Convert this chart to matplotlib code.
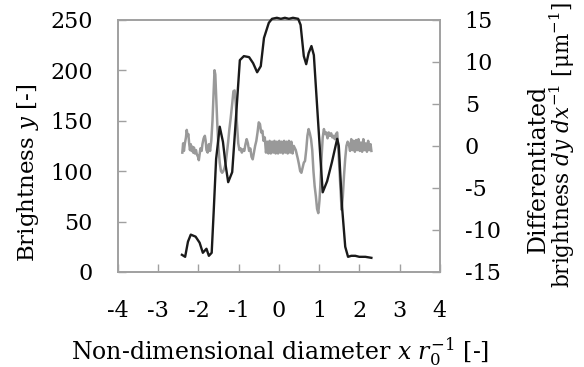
import matplotlib.pyplot as plt

plt.rcParams['font.family'] = 'DejaVu Serif'
plt.rcParams['mathtext.fontset'] = 'dejavuserif'
plt.rcParams['axes.unicode_minus'] = False

# brightness profile (left axis)
x_bright = [-2.41, -2.33, -2.26, -2.19, -2.07, -1.97, -1.89, -1.80, -1.74, -1.67,
            -1.62, -1.56, -1.47, -1.39, -1.32, -1.26, -1.16, -1.08, -0.97, -0.87,
            -0.74, -0.64, -0.54, -0.45, -0.37, -0.25, -0.17, -0.05, 0.05, 0.15,
            0.25, 0.35, 0.48, 0.54, 0.62, 0.68, 0.74, 0.81, 0.87, 0.95,
            1.03, 1.09, 1.20, 1.32, 1.45, 1.49, 1.57, 1.65, 1.72, 1.80,
            1.90, 2.00, 2.07, 2.15, 2.30]
y_bright = [17, 15, 30, 37, 35, 29, 19, 23, 16, 19,
            60, 112, 144, 129, 105, 89, 99, 145, 210, 214,
            213, 207, 198, 204, 232, 247, 251, 252, 251, 252,
            251, 252, 251, 245, 214, 206, 217, 224, 215, 165,
            115, 79, 90, 109, 132, 125, 65, 25, 15, 16,
            16, 15, 15, 15, 14]

# differentiated brightness (right axis)
x_diff = [-2.40, -2.38, -2.36, -2.34, -2.31, -2.29, -2.27, -2.25, -2.23, -2.21,
          -2.19, -2.17, -2.15, -2.13, -2.11, -2.09, -2.06, -2.04, -2.01, -1.99,
          -1.97, -1.95, -1.92, -1.90, -1.87, -1.84, -1.82, -1.80, -1.77, -1.74,
          -1.71, -1.68, -1.65, -1.62, -1.60, -1.58, -1.56, -1.53, -1.50, -1.47,
          -1.44, -1.41, -1.38, -1.35, -1.32, -1.29, -1.26, -1.23, -1.20, -1.16,
          -1.13, -1.10, -1.07, -1.04, -1.01, -0.98, -0.95, -0.92, -0.89, -0.86,
          -0.83, -0.80, -0.77, -0.74, -0.71, -0.68, -0.65, -0.62, -0.59, -0.56,
          -0.53, -0.50, -0.47, -0.44, -0.41, -0.38, -0.35, -0.32, -0.29, -0.26,
          -0.23, -0.20, -0.17, -0.14, -0.11, -0.08, -0.05, -0.02, 0.01, 0.04,
          0.07, 0.10, 0.13, 0.16, 0.19, 0.22, 0.25, 0.28, 0.31, 0.34,
          0.37, 0.42, 0.47, 0.50, 0.53, 0.56, 0.59, 0.62, 0.65, 0.68,
          0.71, 0.74, 0.77, 0.80, 0.83, 0.86, 0.89, 0.92, 0.95, 0.98,
          1.01, 1.03, 1.06, 1.09, 1.12, 1.15, 1.18, 1.21, 1.24, 1.27,
          1.30, 1.33, 1.36, 1.39, 1.42, 1.45, 1.48, 1.51, 1.54, 1.56,
          1.59, 1.62, 1.65, 1.68, 1.71, 1.74, 1.77, 1.80, 1.83, 1.86,
          1.89, 1.92, 1.95, 1.98, 2.01, 2.04, 2.07, 2.10, 2.13, 2.16,
          2.19, 2.22, 2.25, 2.28, 2.30]
y_diff = [-0.8, 0.3, -0.6, 0.2, 1.0, 1.9, 1.2, 1.4, 0.3, -0.5,
          0.2, -0.6, -0.1, -0.8, -0.2, -0.9, -0.5, -1.0, -1.3, -1.7,
          -1.0, -0.3, -0.6, 0.2, 0.9, 1.2, 0.6, -0.5, -0.8, 0.2,
          -0.6, 0.6, 3.0, 6.5, 9.0, 8.5, 6.0, 2.5, -0.3, -2.0,
          -3.0, -3.2, -3.0, -2.6, -2.0, -0.8, 0.5, 2.0, 3.2, 5.0,
          6.5, 6.6, 5.0, 2.5, 0.3, -0.5, -0.3, -0.8, -0.4, -0.6,
          0.2, 0.8, 0.3, -0.6, -0.3, -1.3, -1.6, -0.8, 0.0, 0.6,
          1.6, 2.8, 2.6, 1.6, 1.8, 0.6, 1.0, -0.8, 0.5, -0.9,
          0.6, -0.9, 0.5, -0.8, 0.6, -0.9, 0.5, -0.9, 0.6, -0.8,
          0.5, -0.9, 0.6, -0.8, 0.5, -0.9, 0.6, -0.8, 0.5, -0.9,
          0.0, -0.5, -1.5, -2.2, -3.0, -3.2, -2.6, -2.0, -1.8, -0.5,
          1.2, 2.0, 1.5, 0.8, -0.5, -3.0, -4.8, -6.0, -7.5, -8.0,
          -6.5, -4.8, -1.5, 1.0, 2.0, 1.4, 1.6, 0.9, 1.6, 1.2,
          1.5, 1.0, 1.2, 0.8, 1.4, 1.6, -0.5, -3.2, -6.0, -7.6,
          -6.0, -3.5, -1.5, 0.0, 0.5, 0.2, -0.6, 0.8, -0.5, 0.6,
          -0.7, 0.7, -0.5, 0.8, -0.6, 0.4, -0.7, 0.8, -0.5, 0.3,
          -0.7, 0.6, -0.5, 0.2, -0.6]

x_ticks = [-4, -3, -2, -1, 0, 1, 2, 3, 4]
left_ticks = [0, 50, 100, 150, 200, 250]
right_ticks = [-15, -10, -5, 0, 5, 10, 15]

spine_gray = '#a0a0a0'

fig = plt.figure(figsize=(5.84, 3.67), dpi=100)
ax = fig.add_axes([0.202, 0.259, 0.551, 0.687])
ax2 = ax.twinx()

ax2.plot(x_diff, y_diff, color='#999999', lw=1.8, zorder=1)
ax.plot(x_bright, y_bright, color='#1a1a1a', lw=1.7, clip_on=False, zorder=3)
ax.set_zorder(ax2.get_zorder() + 1)
ax.patch.set_visible(False)

ax.set_xlim(-4, 4)
ax.set_ylim(0, 250)
ax2.set_ylim(-15, 15)
ax.set_xticks(x_ticks)
ax.set_yticks(left_ticks)
ax2.set_yticks(right_ticks)

for a in (ax, ax2):
    for s in a.spines.values():
        s.set_color(spine_gray)
        s.set_linewidth(1.2)
    a.tick_params(direction='in', length=6, width=1, color=spine_gray,
                  labelsize=16, pad=18)
ax.tick_params(axis='x', pad=20)

fig.text(0.048, 0.528, 'Brightness $y$ [-]', rotation=90, fontsize=16.5,
         ha='center', va='center')
fig.text(0.921, 0.54, 'Differentiated', rotation=90, fontsize=17,
         ha='center', va='center')
fig.text(0.963, 0.605, 'brightness $dy$ $dx^{-1}$ [μm$^{\\mathregular{-1}}$]',
         rotation=90, fontsize=15.5, ha='center', va='center')
fig.text(0.48, 0.022, 'Non-dimensional diameter $x$ $r_0^{-1}$ [-]', fontsize=17,
         ha='center', va='baseline')

fig.savefig('out.png', dpi=100)
